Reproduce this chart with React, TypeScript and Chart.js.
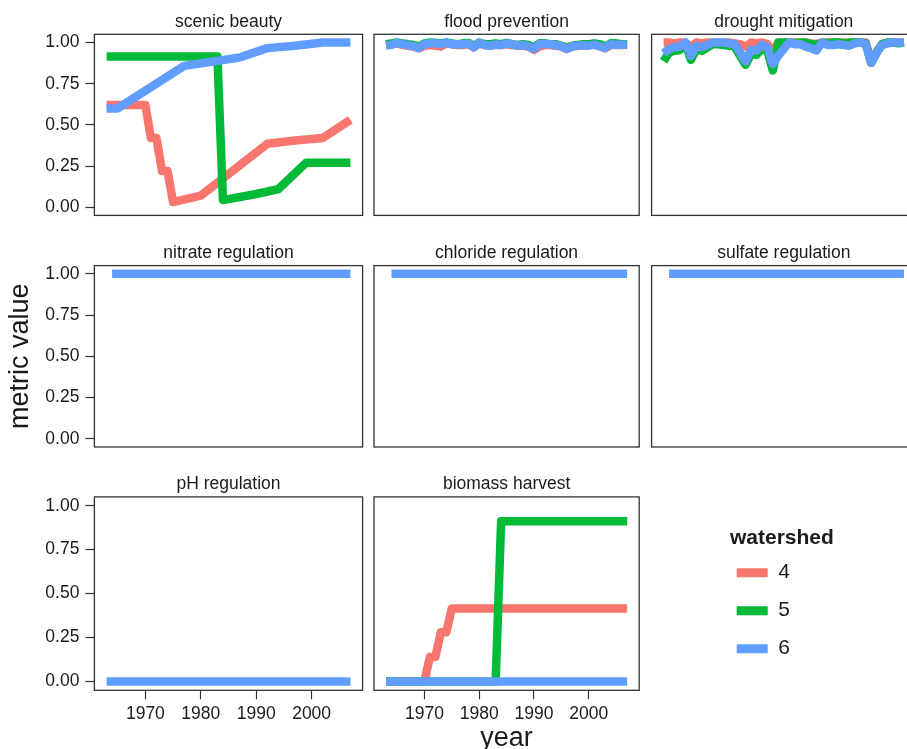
import React, { useEffect, useRef } from "react";
import { Chart, registerables } from "chart.js";

Chart.register(...registerables);

const FONT = "'Liberation Sans', Arial, Helvetica, sans-serif";
const TEXT = "#1a1a1a";
const LINE_DARK = "#333333";

// ---------- data ----------
const watersheds = ["4", "5", "6"];
const wsColors = ["#F8766D", "#00BA38", "#619CFF"];
const legendTitle = "watershed";

const xTickValues = [1970, 1980, 1990, 2000];
const xTickLabels = ["1970", "1980", "1990", "2000"];
const yTickValues = [0, 0.25, 0.5, 0.75, 1];
const yTickLabels = ["0.00", "0.25", "0.50", "0.75", "1.00"];

// scenic beauty
const sc4Years = [1963, 1970, 1971, 1972, 1973, 1974, 1975, 1980, 1992, 1997, 2002, 2007];
const sc4Vals = [0.62, 0.62, 0.42, 0.42, 0.22, 0.22, 0.03, 0.07, 0.385, 0.405, 0.42, 0.53];
const sc5Years = [1963, 1983, 1984, 1990, 1994, 1999, 2007];
const sc5Vals = [0.915, 0.915, 0.043, 0.08, 0.11, 0.27, 0.27];
const sc6Years = [1963, 1965, 1977, 1987, 1992, 1997, 2002, 2007];
const sc6Vals = [0.6, 0.6, 0.858, 0.909, 0.966, 0.98, 1.0, 1.0];

// annual series (flood prevention, drought mitigation)
const annualYears = [
  1963, 1964, 1965, 1966, 1967, 1968, 1969, 1970, 1971, 1972,
  1973, 1974, 1975, 1976, 1977, 1978, 1979, 1980, 1981, 1982,
  1983, 1984, 1985, 1986, 1987, 1988, 1989, 1990, 1991, 1992,
  1993, 1994, 1995, 1996, 1997, 1998, 1999, 2000, 2001, 2002,
  2003, 2004, 2005, 2006, 2007,
];
const fl4Vals = [
  0.985, 0.99, 0.995, 0.985, 0.98, 0.975, 0.965, 0.98, 0.985, 0.98,
  0.975, 0.995, 0.99, 0.985, 0.985, 0.99, 0.97, 0.995, 0.985, 0.98,
  0.985, 0.985, 0.99, 0.985, 0.98, 0.98, 0.975, 0.955, 0.975, 0.985,
  0.985, 0.98, 0.975, 0.96, 0.975, 0.98, 0.98, 0.985, 0.99, 0.98,
  0.965, 0.985, 0.985, 0.985, 0.985,
];
const fl5Vals = [
  0.99, 0.995, 1.0, 0.995, 0.99, 0.985, 0.975, 0.995, 1.0, 0.998,
  0.995, 1.0, 0.995, 0.99, 0.995, 0.998, 0.98, 1.0, 0.99, 0.99,
  0.995, 0.99, 0.998, 0.99, 0.985, 0.99, 0.985, 0.97, 0.995, 0.995,
  0.99, 0.99, 0.98, 0.97, 0.98, 0.985, 0.99, 0.99, 0.995, 0.99,
  0.975, 0.995, 0.995, 0.99, 0.99,
];
const fl6Vals = [
  0.981, 0.986, 0.998, 0.99, 0.985, 0.977, 0.966, 0.99, 0.996, 0.996,
  0.99, 0.999, 0.99, 0.99, 0.99, 0.994, 0.971, 0.999, 0.985, 0.981,
  0.988, 0.985, 0.996, 0.99, 0.981, 0.985, 0.977, 0.962, 0.99, 0.992,
  0.99, 0.985, 0.977, 0.962, 0.977, 0.981, 0.985, 0.981, 0.987, 0.977,
  0.968, 0.99, 0.987, 0.987, 0.987,
];
const dr4Vals = [
  1.0, 1.0, 0.995, 1.0, 1.0, 0.975, 1.0, 0.995, 1.0, 1.0,
  1.0, 1.0, 1.0, 0.995, 0.99, 0.975, 1.0, 0.995, 1.0, 0.99,
  0.945, 1.0, 1.0, 1.0, 1.0, 1.0, 1.0, 0.995, 0.99, 1.0,
  1.0, 1.0, 1.0, 1.0, 0.995, 1.0, 1.0, 1.0, 0.877, 0.945,
  0.99, 1.0, 1.0, 1.0, 1.0,
];
const dr5Vals = [
  0.886, 0.94, 0.95, 0.955, 0.99, 0.895, 0.96, 0.95, 0.97, 0.99,
  0.99, 0.985, 0.98, 0.975, 0.92, 0.865, 0.93, 0.925, 0.965, 0.95,
  0.83, 1.0, 1.0, 1.0, 0.995, 1.0, 1.0, 0.99, 0.985, 1.0,
  0.995, 1.0, 1.0, 0.995, 1.0, 1.0, 1.0, 0.995, 0.877, 0.94,
  0.99, 1.0, 1.0, 0.995, 1.0,
];
const dr6Vals = [
  0.934, 0.96, 0.971, 0.975, 1.0, 0.92, 0.98, 0.971, 0.985, 1.0,
  1.0, 1.0, 0.995, 0.99, 0.94, 0.886, 0.955, 0.952, 0.985, 0.97,
  0.87, 0.92, 0.962, 1.0, 0.99, 0.99, 0.975, 0.965, 0.952, 1.0,
  0.985, 0.985, 0.99, 0.985, 0.981, 0.995, 1.0, 0.99, 0.877, 0.94,
  0.985, 0.995, 1.0, 1.0, 1.0,
];

// regulation metrics (only watershed 6 visible)
const regYears = [1964, 2007];
const nitrate6Vals = [1, 1];
const chloride6Vals = [1, 1];
const sulfate6Vals = [1, 1];
const phYears = [1963, 2007];
const ph6Vals = [0, 0];

// biomass harvest
const bm4Years = [1963, 1970, 1971, 1972, 1973, 1974, 1975, 2007];
const bm4Vals = [0, 0, 0.14, 0.14, 0.28, 0.28, 0.415, 0.415];
const bm5Years = [1963, 1983, 1984, 2007];
const bm5Vals = [0, 0, 0.911, 0.911];
const bm6Years = [1963, 2007];
const bm6Vals = [0, 0];

type Series = { ws: number; years: number[]; vals: number[] };
type PanelDef = { title: string; row: number; col: number; series: Series[] };

// series listed with watershed 6 first so it is drawn on top
const panels: PanelDef[] = [
  {
    title: "scenic beauty", row: 0, col: 0,
    series: [
      { ws: 2, years: sc6Years, vals: sc6Vals },
      { ws: 1, years: sc5Years, vals: sc5Vals },
      { ws: 0, years: sc4Years, vals: sc4Vals },
    ],
  },
  {
    title: "flood prevention", row: 0, col: 1,
    series: [
      { ws: 2, years: annualYears, vals: fl6Vals },
      { ws: 1, years: annualYears, vals: fl5Vals },
      { ws: 0, years: annualYears, vals: fl4Vals },
    ],
  },
  {
    title: "drought mitigation", row: 0, col: 2,
    series: [
      { ws: 2, years: annualYears, vals: dr6Vals },
      { ws: 1, years: annualYears, vals: dr5Vals },
      { ws: 0, years: annualYears, vals: dr4Vals },
    ],
  },
  { title: "nitrate regulation", row: 1, col: 0, series: [{ ws: 2, years: regYears, vals: nitrate6Vals }] },
  { title: "chloride regulation", row: 1, col: 1, series: [{ ws: 2, years: regYears, vals: chloride6Vals }] },
  { title: "sulfate regulation", row: 1, col: 2, series: [{ ws: 2, years: regYears, vals: sulfate6Vals }] },
  { title: "pH regulation", row: 2, col: 0, series: [{ ws: 2, years: phYears, vals: ph6Vals }] },
  {
    title: "biomass harvest", row: 2, col: 1,
    series: [
      { ws: 2, years: bm6Years, vals: bm6Vals },
      { ws: 1, years: bm5Years, vals: bm5Vals },
      { ws: 0, years: bm4Years, vals: bm4Vals },
    ],
  },
];

// ---------- layout ----------
const COL_L = [94.4, 371.0, 647.8];
const PANEL_W = 268.2;
const ROW_T = [34.3, 265.6, 496.9];
const PANEL_H = 193.4;
const STRIP_H = 34;
const STRIP_PAD_TOP = 11;
const TICK_FONT = 17.5;
const AXIS_TITLE_FONT = 27;
const LINE_W = 8.5;
const BOTTOM_EDGE = 755;

const panelBorder = {
  id: "panelBorder",
  afterDatasetsDraw(chart: any) {
    const { ctx, chartArea } = chart;
    ctx.save();
    ctx.strokeStyle = LINE_DARK;
    ctx.lineWidth = 1.3;
    ctx.strokeRect(chartArea.left, chartArea.top, chartArea.right - chartArea.left, chartArea.bottom - chartArea.top);
    ctx.restore();
  },
};

function geom(def: PanelDef) {
  const L = COL_L[def.col];
  const T = ROW_T[def.row];
  const R = L + PANEL_W;
  const B = T + PANEL_H;
  const hasX = def.row === 2;
  const cLeft = def.col === 0 ? 0 : Math.floor(L) - 3;
  const cTop = Math.floor(T - STRIP_H);
  const cRight = Math.ceil(R) + 3;
  const cBottom = hasX ? BOTTOM_EDGE : Math.ceil(B) + 12;
  return {
    left: cLeft,
    top: cTop,
    w: cRight - cLeft,
    h: cBottom - cTop,
    pad: {
      left: def.col === 0 ? 0 : L - cLeft,
      right: cRight - R,
      top: T - STRIP_H - cTop,
      bottom: hasX ? 0 : cBottom - B,
    },
    yAxisW: L - cLeft,
    xAxisH: cBottom - B,
    hasX,
  };
}

function Panel({ def }: { def: PanelDef }) {
  const ref = useRef<HTMLCanvasElement>(null);
  const g = geom(def);
  useEffect(() => {
    if (!ref.current) return;
    const gridOpts = {
      display: true,
      drawOnChartArea: false,
      drawTicks: true,
      tickLength: 9,
      tickColor: LINE_DARK,
      tickWidth: 1.2,
      color: LINE_DARK,
    };
    const chart = new Chart(ref.current, {
      type: "line",
      data: {
        datasets: def.series.map((s) => ({
          label: watersheds[s.ws],
          data: s.years.map((yr, i) => ({ x: yr, y: s.vals[i] })),
          borderColor: wsColors[s.ws],
          backgroundColor: wsColors[s.ws],
          borderWidth: LINE_W,
          pointRadius: 0,
          tension: 0,
          fill: false,
          borderJoinStyle: "round" as const,
          borderCapStyle: "butt" as const,
        })),
      },
      options: {
        responsive: false,
        animation: false,
        events: [],
        layout: { padding: g.pad },
        plugins: {
          legend: { display: false },
          tooltip: { enabled: false },
          title: {
            display: true,
            text: def.title,
            fullSize: false,
            color: TEXT,
            font: { family: FONT, size: TICK_FONT, weight: "normal" },
            padding: { top: STRIP_PAD_TOP, bottom: STRIP_H - STRIP_PAD_TOP - TICK_FONT * 1.2 },
          },
        },
        scales: {
          x: {
            type: "linear",
            min: 1960.8,
            max: 2009.2,
            display: g.hasX,
            afterBuildTicks: (s: any) => {
              s.ticks = xTickValues.map((v) => ({ value: v }));
            },
            afterFit: (s: any) => {
              s.height = g.xAxisH;
            },
            grid: gridOpts,
            border: { display: false },
            ticks: {
              color: TEXT,
              font: { family: FONT, size: TICK_FONT },
              padding: 4,
              autoSkip: false,
              maxRotation: 0,
              callback: (_v: any, i: number) => xTickLabels[i],
            },
            title: {
              display: def.title === "biomass harvest",
              text: "year",
              color: TEXT,
              font: { family: FONT, size: AXIS_TITLE_FONT },
              padding: { top: 0, bottom: 0 },
            },
          },
          y: {
            type: "linear",
            min: -0.05,
            max: 1.05,
            display: def.col === 0,
            afterBuildTicks: (s: any) => {
              s.ticks = yTickValues.map((v) => ({ value: v }));
            },
            afterFit: (s: any) => {
              s.width = g.yAxisW;
            },
            grid: gridOpts,
            border: { display: false },
            ticks: {
              color: TEXT,
              font: { family: FONT, size: TICK_FONT },
              padding: 6,
              callback: (_v: any, i: number) => yTickLabels[i],
            },
            title: {
              display: def.title === "nitrate regulation",
              text: "metric value",
              color: TEXT,
              font: { family: FONT, size: AXIS_TITLE_FONT },
              padding: { top: 4, bottom: 0 },
            },
          },
        },
      },
      plugins: [panelBorder],
    } as any);
    return () => chart.destroy();
  }, []);
  return (
    <canvas
      ref={ref}
      width={g.w}
      height={g.h}
      style={{ position: "absolute", left: g.left, top: g.top, width: g.w, height: g.h }}
    />
  );
}

// legend items (keys + labels)
function LegendChart() {
  const ref = useRef<HTMLCanvasElement>(null);
  const left = 600;
  const top = 500;
  const w = 307;
  const h = 200;
  useEffect(() => {
    if (!ref.current) return;
    const chart = new Chart(ref.current, {
      type: "line",
      data: {
        datasets: watersheds.map((ws, i) => ({
          label: ws,
          data: [],
          borderColor: wsColors[i],
          backgroundColor: wsColors[i],
          borderWidth: 0,
        })),
      },
      options: {
        responsive: false,
        animation: false,
        events: [],
        layout: { padding: { left: 119.7, right: 0, top: 45.2, bottom: 0 } },
        scales: { x: { display: false }, y: { display: false } },
        plugins: {
          tooltip: { enabled: false },
          title: { display: false },
          legend: {
            display: true,
            position: "left",
            align: "start",
            labels: {
              boxWidth: 31,
              boxHeight: 9,
              padding: 17,
              color: TEXT,
              font: { family: FONT, size: 21 },
            },
          },
        },
      },
    } as any);
    return () => chart.destroy();
  }, []);
  return (
    <canvas
      ref={ref}
      width={w}
      height={h}
      style={{ position: "absolute", left, top, width: w, height: h }}
    />
  );
}

// legend title
function LegendTitleChart() {
  const ref = useRef<HTMLCanvasElement>(null);
  const left = 700;
  const top = 500;
  const w = 207;
  const h = 60;
  useEffect(() => {
    if (!ref.current) return;
    const chart = new Chart(ref.current, {
      type: "line",
      data: { datasets: [] },
      options: {
        responsive: false,
        animation: false,
        events: [],
        layout: { padding: { left: 30, right: 0, top: 0, bottom: 0 } },
        scales: { x: { display: false }, y: { display: false } },
        plugins: {
          tooltip: { enabled: false },
          legend: { display: false },
          title: {
            display: true,
            text: legendTitle,
            align: "start",
            color: TEXT,
            font: { family: FONT, size: 21, weight: "bold" },
            padding: { top: 25.5, bottom: 0 },
          },
        },
      },
    } as any);
    return () => chart.destroy();
  }, []);
  return (
    <canvas
      ref={ref}
      width={w}
      height={h}
      style={{ position: "absolute", left, top, width: w, height: h }}
    />
  );
}

export default function App() {
  return (
    <div
      style={{
        position: "fixed",
        left: 0,
        top: 0,
        width: 907,
        height: 749,
        overflow: "hidden",
        background: "#ffffff",
      }}
    >
      {panels.map((p) => (
        <Panel key={p.title} def={p} />
      ))}
      <LegendChart />
      <LegendTitleChart />
    </div>
  );
}
